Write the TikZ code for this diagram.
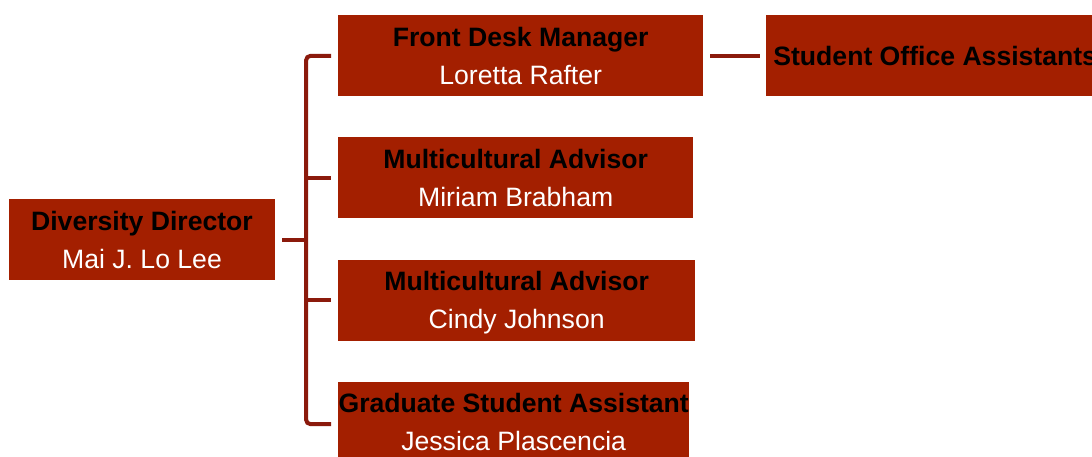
\documentclass[tikz,border=0pt]{standalone}
\usepackage{fontspec}
\setmainfont{Liberation Sans}
\usetikzlibrary{positioning}

\definecolor{boxred}{HTML}{A31F00}
\definecolor{linkred}{HTML}{8B1A0C}

\begin{document}
\begin{tikzpicture}[
    x = 1pt, y = -1pt,
    on grid,
    node distance = 122pt,
    font = \fontsize{26.6}{38}\selectfont
  ]

  \useasboundingbox (0,0) rectangle (1092,457);
  \clip (0,0) rectangle (1092,457);

  \tikzstyle {every node} = [align = center, inner sep = 0]
  \tikzstyle {box} = [fill = boxred, minimum height = 81pt, text depth = 0pt]
  \tikzstyle {link} = [draw = linkred, line width = 4pt]

  \node [box, minimum width = 266pt] (dir) at (142,239.5) {\textbf{Diversity Director}\\\textcolor{white}{Mai J. Lo Lee}};
  \node [box, minimum width = 365pt, anchor = west] (fd) at (338,56) {\textbf{Front Desk Manager}\\\textcolor{white}{Loretta Rafter}};
  \node [box, minimum width = 355pt, below = of fd.west, anchor = west] (ma1) {\textbf{Multicultural Advisor}\\\textcolor{white}{Miriam Brabham}};
  \node [box, minimum width = 357pt, below = of ma1.west, anchor = west] (ma2) {\textbf{Multicultural Advisor}\\\textcolor{white}{Cindy Johnson}};
  \node [box, minimum width = 351pt, below = of ma2.west, anchor = west] (gsa) {\textbf{Graduate Student Assistant}\\\textcolor{white}{Jessica Plascencia}};
  \node [box, minimum width = 338pt, right = 414.5pt of fd] (soa) {\textbf{Student Office Assistants}};

  % the bracket from the director to the four staff boxes
  \path (dir.east) ++(31,0) coordinate (spine);
  \draw [link] ([xshift=7pt]dir.east) -- (spine);
  \draw [link, rounded corners=4pt] ([xshift=-7pt]fd.west) -| (spine) |- ([xshift=-7pt, yshift=-2pt]gsa.west);
  \foreach \n in {ma1, ma2}
    \draw [link] (spine |- \n.west) -- ([xshift=-7pt]\n.west);

  \draw [link] ([xshift=7pt]fd.east) -- ([xshift=-6pt]soa.west);
\end{tikzpicture}
\end{document}
